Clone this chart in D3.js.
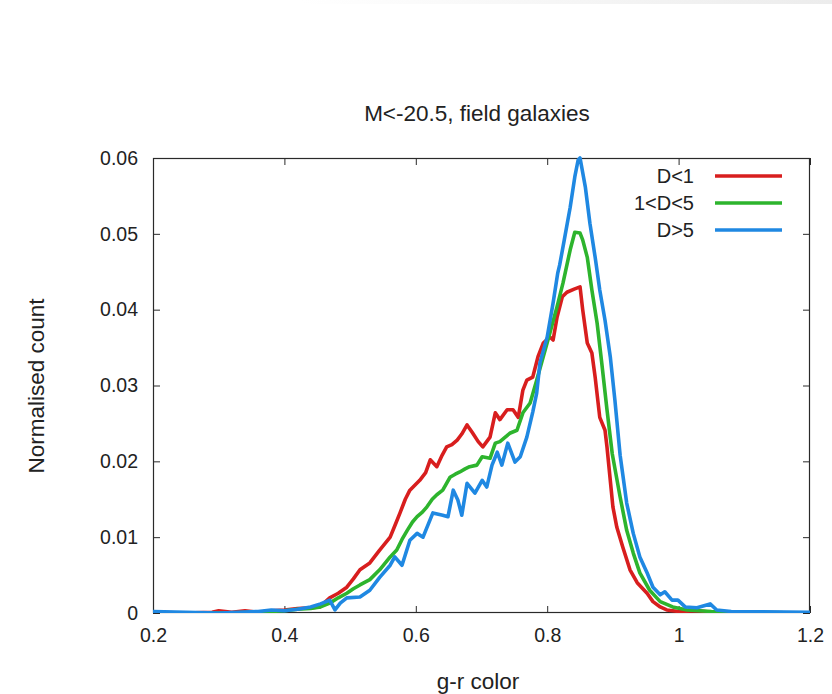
<!DOCTYPE html>
<html>
<head>
<meta charset="utf-8">
<script src="https://cdn.jsdelivr.net/npm/d3@7"></script>
<style>
  html, body { margin: 0; padding: 0; background: #fff; }
  svg { display: block; }
  text { font-family: "Liberation Sans", Arial, sans-serif; fill: #222; }
</style>
</head>
<body>
<div id="chart"></div>
<script>
// ---- data ----
const titleText = "M<-20.5, field galaxies";
const xLabel = "g-r color";
const yLabel = "Normalised count";
const xTicks = [0.2, 0.4, 0.6, 0.8, 1.0, 1.2];
const xTickLabels = ["0.2", "0.4", "0.6", "0.8", "1", "1.2"];
const yTicks = [0, 0.01, 0.02, 0.03, 0.04, 0.05, 0.06];
const yTickLabels = ["0", "0.01", "0.02", "0.03", "0.04", "0.05", "0.06"];
const seriesNames = ["D<1", "1<D<5", "D>5"];
const seriesColors = ["#d81e1e", "#2db42d", "#1f88e2"];

const redX = [0.20,0.25,0.29,0.30,0.32,0.34,0.36,0.38,0.40,0.42,0.44,0.454,0.469,0.482,0.495,0.505,0.515,0.530,0.545,0.561,0.569,0.576,0.584,0.591,0.606,0.615,0.622,0.632,0.640,0.647,0.655,0.663,0.670,0.678,0.686,0.695,0.702,0.713,0.721,0.728,0.739,0.748,0.756,0.763,0.769,0.778,0.786,0.794,0.804,0.809,0.815,0.823,0.830,0.841,0.850,0.854,0.861,0.868,0.873,0.880,0.888,0.891,0.896,0.900,0.906,0.915,0.926,0.937,0.952,0.961,0.972,0.982,1.00,1.03,1.05,1.10,1.20];
const redY = [0.0001,0.0000,0.0001,0.0003,0.0001,0.0003,0.0001,0.0003,0.0004,0.0006,0.0007,0.0008,0.0020,0.0026,0.0034,0.0045,0.0057,0.0066,0.0083,0.0100,0.0117,0.0132,0.0150,0.0162,0.0175,0.0185,0.0202,0.0193,0.0208,0.0219,0.0222,0.0228,0.0236,0.0248,0.0238,0.0226,0.0219,0.0232,0.0264,0.0255,0.0268,0.0268,0.0258,0.0294,0.0307,0.0311,0.0338,0.0356,0.0364,0.0360,0.0390,0.0417,0.0423,0.0427,0.0430,0.0400,0.0356,0.0343,0.0311,0.0258,0.0241,0.0219,0.0175,0.0140,0.0113,0.0087,0.0057,0.0040,0.0026,0.0015,0.0008,0.0004,0.0002,0.0003,0.0001,0.0001,0.0000];

const greenX = [0.20,0.30,0.36,0.40,0.42,0.44,0.455,0.469,0.482,0.495,0.505,0.515,0.530,0.545,0.561,0.571,0.579,0.587,0.595,0.602,0.610,0.617,0.625,0.632,0.641,0.652,0.660,0.667,0.675,0.682,0.693,0.701,0.713,0.721,0.728,0.743,0.754,0.763,0.774,0.784,0.794,0.804,0.815,0.824,0.835,0.842,0.850,0.854,0.861,0.868,0.876,0.883,0.891,0.899,0.911,0.921,0.931,0.941,0.956,0.972,0.991,1.013,1.05,1.10,1.20];
const greenY = [0.0000,0.0000,0.0001,0.0003,0.0005,0.0006,0.0008,0.0013,0.0020,0.0026,0.0032,0.0037,0.0044,0.0057,0.0074,0.0083,0.0097,0.0109,0.0120,0.0127,0.0133,0.0140,0.0150,0.0156,0.0162,0.0179,0.0183,0.0186,0.0190,0.0193,0.0195,0.0206,0.0204,0.0224,0.0226,0.0237,0.0241,0.0264,0.0277,0.0307,0.0338,0.0369,0.0404,0.0435,0.0479,0.0502,0.0501,0.0492,0.0469,0.0426,0.0382,0.0330,0.0268,0.0210,0.0153,0.0109,0.0079,0.0053,0.0030,0.0015,0.0008,0.0004,0.0002,0.0001,0.0000];

const blueX = [0.20,0.25,0.30,0.33,0.36,0.38,0.40,0.42,0.44,0.455,0.469,0.477,0.485,0.495,0.515,0.530,0.545,0.561,0.568,0.579,0.591,0.602,0.611,0.626,0.641,0.649,0.657,0.664,0.670,0.678,0.690,0.701,0.708,0.716,0.724,0.731,0.740,0.751,0.759,0.769,0.778,0.784,0.789,0.800,0.809,0.816,0.819,0.826,0.835,0.842,0.847,0.850,0.858,0.865,0.873,0.880,0.888,0.896,0.903,0.911,0.921,0.931,0.941,0.952,0.961,0.972,0.979,0.990,0.999,1.010,1.028,1.048,1.058,1.08,1.20];
const blueY = [0.0002,0.0001,0.0000,0.0001,0.0002,0.0004,0.0003,0.0005,0.0008,0.0012,0.0017,0.0004,0.0013,0.0020,0.0021,0.0030,0.0047,0.0063,0.0074,0.0063,0.0096,0.0105,0.0100,0.0132,0.0129,0.0127,0.0162,0.0149,0.0129,0.0171,0.0158,0.0175,0.0166,0.0195,0.0212,0.0195,0.0224,0.0199,0.0206,0.0232,0.0265,0.0290,0.0330,0.0364,0.0409,0.0448,0.0459,0.0492,0.0535,0.0575,0.0597,0.0600,0.0562,0.0514,0.0469,0.0426,0.0386,0.0338,0.0281,0.0208,0.0145,0.0105,0.0074,0.0053,0.0034,0.0024,0.0028,0.0017,0.0017,0.0008,0.0007,0.0012,0.0004,0.0002,0.0001];

// ---- layout ----
const W = 832, H = 694;
const mLeft = 153, mRight = 810, mTop = 158, mBottom = 613;
const tickLen = 7;
const tickFont = 19.5, legendFont = 20, labelFont = 22.5;

const svg = d3.select("#chart").append("svg").attr("width", W).attr("height", H);

// faint grey band at the very top (as in the reference screenshot)
const defs = svg.append("defs");
const grad = defs.append("linearGradient").attr("id", "topband").attr("x1", 0).attr("x2", 1);
grad.append("stop").attr("offset", "0").attr("stop-color", "#ffffff");
grad.append("stop").attr("offset", "1").attr("stop-color", "#ececec");
svg.append("rect").attr("x", 300).attr("y", 0).attr("width", 532).attr("height", 4).attr("fill", "url(#topband)");

const x = d3.scaleLinear().domain([0.2, 1.2]).range([mLeft, mRight]);
const y = d3.scaleLinear().domain([0, 0.06]).range([mBottom, mTop]);

const axisColor = "#2a2a2a";
const gB = svg.append("g").attr("transform", `translate(0,${mBottom})`)
  .call(d3.axisBottom(x).tickValues(xTicks).tickSize(-tickLen).tickPadding(15)
        .tickFormat((d, i) => xTickLabels[i]));
const gT = svg.append("g").attr("transform", `translate(0,${mTop})`)
  .call(d3.axisTop(x).tickValues(xTicks).tickSize(-tickLen).tickFormat(""));
const gL = svg.append("g").attr("transform", `translate(${mLeft},0)`)
  .call(d3.axisLeft(y).tickValues(yTicks).tickSize(-tickLen).tickPadding(15)
        .tickFormat((d, i) => yTickLabels[i]));
const gR = svg.append("g").attr("transform", `translate(${mRight},0)`)
  .call(d3.axisRight(y).tickValues(yTicks).tickSize(-tickLen).tickFormat(""));
[gB, gT, gL, gR].forEach(g => {
  g.select(".domain").remove();
  g.selectAll(".tick line").attr("stroke", axisColor).attr("stroke-width", 1);
  g.selectAll(".tick text").attr("font-size", tickFont).attr("fill", "#222")
    .attr("font-family", '"Liberation Sans", Arial, sans-serif');
});

// frame
svg.append("rect").attr("x", mLeft + 0.5).attr("y", mTop + 0.5)
  .attr("width", mRight - mLeft - 1).attr("height", mBottom - mTop - 1)
  .attr("fill", "none").attr("stroke", axisColor).attr("stroke-width", 1.2);

// lines
const clip = defs.append("clipPath").attr("id", "plotclip");
clip.append("rect").attr("x", mLeft).attr("y", mTop - 2).attr("width", mRight - mLeft).attr("height", mBottom - mTop + 2);

const line = d3.line().x(d => x(d[0])).y(d => y(d[1]));
const series = [
  d3.zip(redX, redY),
  d3.zip(greenX, greenY),
  d3.zip(blueX, blueY)
];
const plot = svg.append("g").attr("clip-path", "url(#plotclip)");
series.forEach((s, i) => {
  plot.append("path").datum(s).attr("d", line)
    .attr("fill", "none").attr("stroke", seriesColors[i])
    .attr("stroke-width", 3.6).attr("stroke-linejoin", "round");
});

// legend
const legY = [176, 203, 230];
seriesNames.forEach((n, i) => {
  svg.append("text").attr("x", 694).attr("y", legY[i]).attr("dy", "0.35em")
    .attr("text-anchor", "end").attr("font-size", legendFont).text(n);
  svg.append("line").attr("x1", 715).attr("x2", 782).attr("y1", legY[i]).attr("y2", legY[i])
    .attr("stroke", seriesColors[i]).attr("stroke-width", 3.6);
});

// title and axis labels
svg.append("text").attr("x", 477).attr("y", 113).attr("dy", "0.35em")
  .attr("text-anchor", "middle").attr("font-size", labelFont).text(titleText);
svg.append("text").attr("x", 478).attr("y", 681).attr("dy", "0.35em")
  .attr("text-anchor", "middle").attr("font-size", labelFont).text(xLabel);
svg.append("text").attr("transform", "translate(36,386) rotate(-90)").attr("dy", "0.35em")
  .attr("text-anchor", "middle").attr("font-size", labelFont).text(yLabel);
</script>
</body>
</html>
